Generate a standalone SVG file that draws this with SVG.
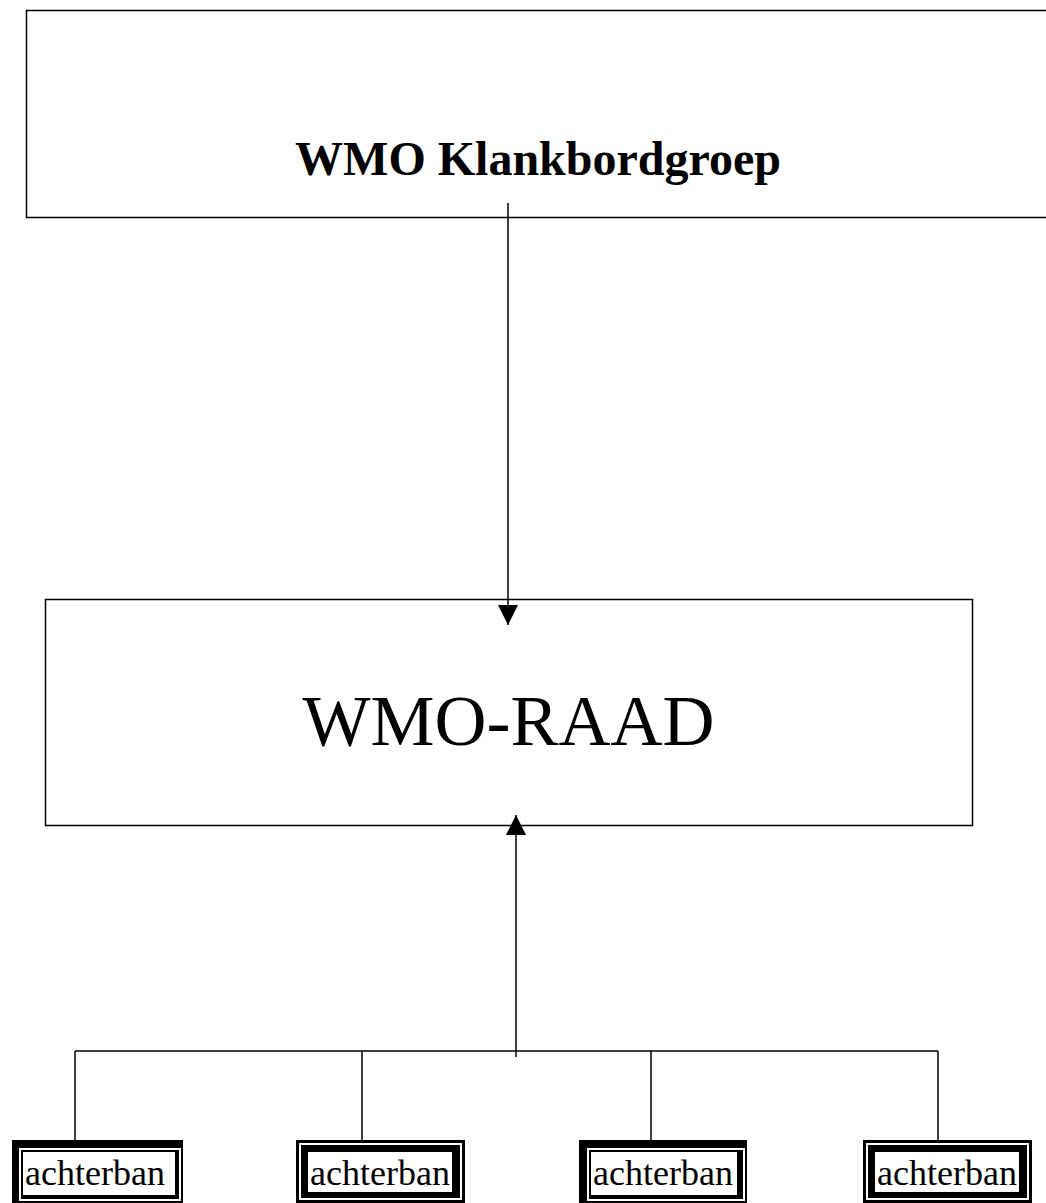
<svg xmlns="http://www.w3.org/2000/svg" width="1046" height="1203" viewBox="0 0 1046 1203">
<style>
.box{fill:#fff;stroke:#000;stroke-width:1.5}
.ln{stroke:#000;stroke-width:1.5;fill:none}
.t{font-family:"Liberation Serif","Times New Roman",serif;fill:#000}
.blk{fill:#000}
.wht{fill:#fff}
</style>
<defs>
<marker id="ah" viewBox="0 0 20 20" refX="20" refY="10" markerWidth="20" markerHeight="20" markerUnits="userSpaceOnUse" orient="auto">
<path d="M0,0 L20,10 L0,20 Z" fill="#000"/>
</marker>
</defs>
<rect width="1046" height="1203" fill="#fff"/>
<g id="klankbordgroep">
<path class="ln" d="M1050,10.5 H26.5 V217.5 H1050"/>
<text class="t" x="538" y="175" font-size="48" font-weight="bold" text-anchor="middle">WMO Klankbordgroep</text>
</g>
<g id="wmo-raad">
<rect class="box" x="45.5" y="599.5" width="927" height="226"/>
<text class="t" x="508.5" y="745" font-size="72" text-anchor="middle">WMO-RAAD</text>
</g>
<g id="connectors">
<line class="ln" x1="508" y1="203" x2="508" y2="625" marker-end="url(#ah)"/>
<line class="ln" x1="516" y1="1057" x2="516" y2="815" marker-end="url(#ah)"/>
<line class="ln" x1="75" y1="1051" x2="938" y2="1051"/>
<line class="ln" x1="75" y1="1051" x2="75" y2="1140"/>
<line class="ln" x1="362" y1="1051" x2="362" y2="1140"/>
<line class="ln" x1="651" y1="1051" x2="651" y2="1140"/>
<line class="ln" x1="938" y1="1051" x2="938" y2="1140"/>
</g>
<g id="achterban1">
<rect class="blk" x="12" y="1140" width="171" height="63"/>
<rect class="wht" x="19" y="1148" width="162" height="53"/>
<rect class="blk" x="21" y="1150" width="158" height="49"/>
<rect class="wht" x="23" y="1152" width="152" height="43"/>
<text class="t" x="25" y="1185" font-size="36">achterban</text>
</g>
<g id="achterban2">
<rect class="blk" x="296" y="1140" width="169" height="63"/>
<rect class="wht" x="299" y="1143" width="163" height="57"/>
<rect class="blk" x="301" y="1145" width="159" height="53"/>
<rect class="wht" x="308" y="1152" width="144" height="40"/>
<text class="t" x="310" y="1185" font-size="36">achterban</text>
</g>
<g id="achterban3">
<rect class="blk" x="579" y="1140" width="168" height="63"/>
<rect class="wht" x="587" y="1148" width="158" height="53"/>
<rect class="blk" x="589" y="1150" width="154" height="49"/>
<rect class="wht" x="591" y="1152" width="146" height="43"/>
<text class="t" x="593" y="1185" font-size="36">achterban</text>
</g>
<g id="achterban4">
<rect class="blk" x="863" y="1140" width="169" height="63"/>
<rect class="wht" x="866" y="1143" width="163" height="57"/>
<rect class="blk" x="868" y="1145" width="159" height="53"/>
<rect class="wht" x="875" y="1152" width="144" height="40"/>
<text class="t" x="877" y="1185" font-size="36">achterban</text>
</g>
</svg>
